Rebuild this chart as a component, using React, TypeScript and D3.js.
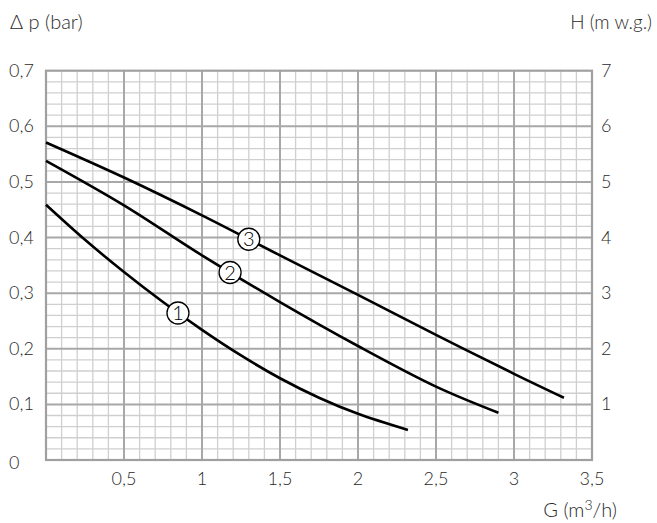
import React, { useEffect, useRef } from 'react';
import * as d3 from 'd3';

// courbes Δp (bar) en fonction du débit G (m3/h)
const flow1 = [0, 0.25, 0.5, 0.75, 1.0, 1.25, 1.5, 1.75, 2.0, 2.32];
const dp1 = [0.459, 0.396, 0.338, 0.284, 0.234, 0.188, 0.147, 0.112, 0.083, 0.054];

const flow2 = [0, 0.5, 1.0, 1.5, 2.0, 2.5, 2.9];
const dp2 = [0.538, 0.458, 0.368, 0.284, 0.205, 0.132, 0.085];

const flow3 = [0, 0.5, 1.0, 1.5, 2.0, 2.5, 3.0, 3.32];
const dp3 = [0.571, 0.508, 0.44, 0.368, 0.297, 0.225, 0.155, 0.112];

const curveNames = ['1', '2', '3'];
const labelFlow = [0.846, 1.18, 1.3];

const xTicks = [0.5, 1, 1.5, 2, 2.5, 3, 3.5];
const yTicks = [0.1, 0.2, 0.3, 0.4, 0.5, 0.6, 0.7];
const hTicks = [1, 2, 3, 4, 5, 6, 7];

const App: React.FC = () => {
  const ref = useRef<SVGSVGElement>(null);

  useEffect(() => {
    if (!ref.current) return;
    const svg = d3.select(ref.current);
    svg.selectAll('*').remove();

    const left = 46, right = 592, top = 70.7, bottom = 460;
    const x = d3.scaleLinear().domain([0, 3.5]).range([left, right]);
    const y = d3.scaleLinear().domain([0, 0.7]).range([bottom, top]);
    const h = d3.scaleLinear().domain([0, 7]).range([bottom, top]);

    const font = 'Lato, "DejaVu Sans", sans-serif';
    const txt = '#2a2a2a';

    const g = svg.append('g');

    // grille fine
    g.selectAll('.vmin')
      .data(d3.range(1, 35).filter(i => i % 5 !== 0))
      .enter()
      .append('line')
      .attr('x1', i => x(i / 10)).attr('x2', i => x(i / 10))
      .attr('y1', top).attr('y2', bottom)
      .attr('stroke', '#cfcfcf').attr('stroke-width', 1.3);

    g.selectAll('.hmin')
      .data(d3.range(1, 35).filter(i => i % 5 !== 0))
      .enter()
      .append('line')
      .attr('y1', i => y(i / 50)).attr('y2', i => y(i / 50))
      .attr('x1', left).attr('x2', right)
      .attr('stroke', '#cfcfcf').attr('stroke-width', 1.3);

    // grille principale
    g.selectAll('.vmaj')
      .data(xTicks.slice(0, -1))
      .enter()
      .append('line')
      .attr('x1', d => x(d)).attr('x2', d => x(d))
      .attr('y1', top).attr('y2', bottom)
      .attr('stroke', '#a8a8a8').attr('stroke-width', 2);

    g.selectAll('.hmaj')
      .data(yTicks.slice(0, -1))
      .enter()
      .append('line')
      .attr('y1', d => y(d)).attr('y2', d => y(d))
      .attr('x1', left).attr('x2', right)
      .attr('stroke', '#a8a8a8').attr('stroke-width', 2);

    g.append('rect')
      .attr('x', left).attr('y', top)
      .attr('width', right - left).attr('height', bottom - top)
      .attr('fill', 'none').attr('stroke', '#a0a0a0').attr('stroke-width', 2.2);

    // courbes
    const series = [
      flow1.map((f, i) => [f, dp1[i]] as [number, number]),
      flow2.map((f, i) => [f, dp2[i]] as [number, number]),
      flow3.map((f, i) => [f, dp3[i]] as [number, number]),
    ];
    const line = d3.line<[number, number]>()
      .x(d => x(d[0])).y(d => y(d[1]))
      .curve(d3.curveCatmullRom.alpha(0.5));

    const paths = series.map(s =>
      g.append('path')
        .attr('d', line(s))
        .attr('fill', 'none')
        .attr('stroke', '#000')
        .attr('stroke-width', 2.6)
    );

    // étiquettes des courbes, posées sur le tracé
    paths.forEach((p, i) => {
      const node = p.node() as SVGPathElement;
      const target = x(labelFlow[i]);
      const len = node.getTotalLength();
      let lo = 0, hi = len;
      for (let k = 0; k < 30; k++) {
        const mid = (lo + hi) / 2;
        if (node.getPointAtLength(mid).x < target) lo = mid; else hi = mid;
      }
      const pt = node.getPointAtLength(lo);
      g.append('circle')
        .attr('cx', pt.x).attr('cy', pt.y).attr('r', 11)
        .attr('fill', '#fff').attr('stroke', '#000').attr('stroke-width', 1.3);
      g.append('text')
        .attr('x', pt.x).attr('y', pt.y + 7)
        .attr('text-anchor', 'middle')
        .attr('font-family', font).attr('font-weight', 300)
        .attr('font-size', 20).attr('fill', '#000')
        .text(curveNames[i]);
    });

    // axes
    g.selectAll('.xl')
      .data(xTicks)
      .enter()
      .append('text')
      .attr('x', d => x(d)).attr('y', 485)
      .attr('text-anchor', 'middle')
      .attr('font-family', font).attr('font-weight', 300)
      .attr('font-size', 18).attr('fill', txt)
      .text(d => String(d).replace('.', ','));

    g.selectAll('.yl')
      .data([0, ...yTicks])
      .enter()
      .append('text')
      .attr('x', 9).attr('y', d => (d === 0 ? 469 : y(d) + 6))
      .attr('font-family', font).attr('font-weight', 300)
      .attr('font-size', 18).attr('fill', txt)
      .text(d => d3.format('.1f')(d).replace('.', ',').replace(/^0,0$/, '0'));

    g.selectAll('.hl')
      .data(hTicks)
      .enter()
      .append('text')
      .attr('x', 601).attr('y', d => h(d) + 6)
      .attr('font-family', font).attr('font-weight', 300)
      .attr('font-size', 18).attr('fill', txt)
      .text(d => d);

    g.append('text')
      .attr('x', 10).attr('y', 29)
      .attr('font-family', font).attr('font-weight', 300)
      .attr('font-size', 20).attr('fill', txt)
      .text('Δ p (bar)');

    g.append('text')
      .attr('x', 652).attr('y', 29)
      .attr('text-anchor', 'end')
      .attr('font-family', font).attr('font-weight', 300)
      .attr('font-size', 19).attr('fill', txt)
      .text('H (m w.g.)');

    const gl = g.append('text')
      .attr('x', 617).attr('y', 517)
      .attr('text-anchor', 'end')
      .attr('font-family', font).attr('font-weight', 300)
      .attr('font-size', 20).attr('fill', txt);
    gl.append('tspan').text('G (m');
    gl.append('tspan').attr('font-size', 14).attr('dy', -7).text('3');
    gl.append('tspan').attr('dy', 7).text('/h)');
  }, []);

  return (
    <svg
      ref={ref}
      width={657}
      height={523}
      style={{ position: 'absolute', left: 0, top: 0, background: '#fff' }}
    />
  );
};

export default App;
